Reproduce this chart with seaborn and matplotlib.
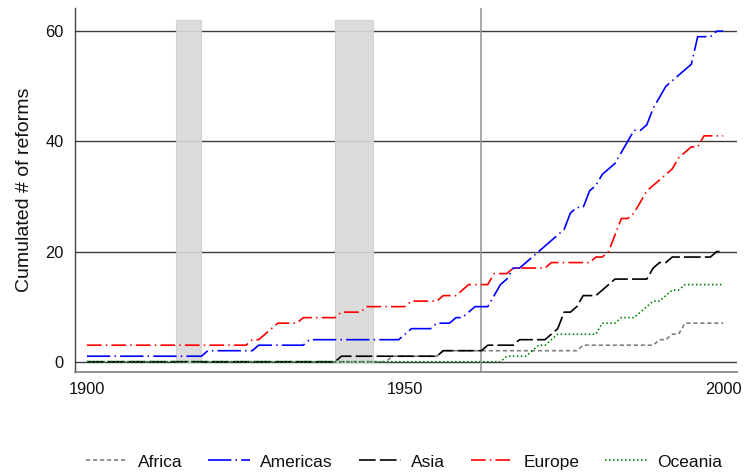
import numpy as np
import pandas as pd
import matplotlib
matplotlib.use("Agg")
import matplotlib.pyplot as plt
import seaborn as sns

# ---------------- data ----------------
years = list(range(1900, 2001))
regions = ["Africa", "Americas", "Asia", "Europe", "Oceania"]

# reforms already in place before 1900
base_africa = 0
base_americas = 1
base_asia = 0
base_europe = 3
base_oceania = 0

# years of individual reforms (a year is repeated when several reforms happened)
reforms_africa = [1948, 1956, 1978, 1990, 1992, 1994, 1994]
reforms_americas = [1919, 1927, 1935, 1950, 1951, 1955, 1958, 1960, 1961,
                    1964, 1964, 1965, 1965, 1966, 1967, 1967, 1969, 1970,
                    1971, 1972, 1973, 1974, 1975, 1976, 1976, 1976, 1977,
                    1979, 1979, 1979, 1980, 1981, 1981, 1982, 1983, 1984,
                    1984, 1985, 1985, 1986, 1986, 1988, 1989, 1989, 1989,
                    1990, 1990, 1991, 1991, 1992, 1993, 1994, 1995,
                    1996, 1996, 1996, 1996, 1996, 1999]
reforms_asia = [1940, 1956, 1963, 1968, 1973, 1974, 1975, 1975, 1975, 1977,
                1978, 1978, 1981, 1982, 1983, 1989, 1989, 1990, 1992, 1999]
reforms_europe = [1926, 1928, 1929, 1930, 1934, 1940, 1944, 1951, 1956, 1959,
                  1960, 1964, 1964, 1967, 1973, 1980, 1982, 1983, 1983, 1983,
                  1984, 1984, 1984, 1986, 1987, 1987, 1988, 1988, 1989, 1990,
                  1991, 1992, 1993, 1993, 1994, 1995, 1997, 1997]
reforms_oceania = [1966, 1970, 1971, 1973, 1974, 1981, 1981, 1984, 1987,
                   1988, 1989, 1991, 1992, 1994]

# world wars (shaded periods) and marker line
war_start = [1914, 1939]
war_end = [1918, 1945]
war_top = 62
marker_year = 1962

x_ticks = [1900, 1950, 2000]
y_ticks = [0, 20, 40, 60]
y_label = "Cumulated # of reforms"

# ---------------- build table ----------------
bases = {"Africa": base_africa, "Americas": base_americas, "Asia": base_asia,
         "Europe": base_europe, "Oceania": base_oceania}
events = {"Africa": reforms_africa, "Americas": reforms_americas,
          "Asia": reforms_asia, "Europe": reforms_europe,
          "Oceania": reforms_oceania}
rows = []
yrs = np.array(years)
for r in regions:
    ev = np.sort(np.array(events[r]))
    cum = bases[r] + np.searchsorted(ev, yrs, side="right")
    for y, c in zip(yrs, cum):
        rows.append({"year": int(y), "count": int(c), "region": r})
df = pd.DataFrame(rows)

# ---------------- style ----------------
sns.set_theme(style="white")
plt.rcParams["font.family"] = ["Liberation Sans", "DejaVu Sans"]

palette = {"Africa": "#808080", "Americas": "#0000ff", "Asia": "#000000",
           "Europe": "#ff0000", "Oceania": "#008000"}
dashes = {"Africa": (2.5, 1.7), "Americas": (14, 2.5, 0.9, 2.5),
          "Asia": (10, 2.5), "Europe": (8.8, 2.5, 0.9, 2.5),
          "Oceania": (0.9, 1.5)}

fig = plt.figure(figsize=(7.45, 4.75), dpi=100)
ax = fig.add_axes([0.1013, 0.2168, 0.8873, 0.7663])

# shaded war periods
ax.bar(war_start, [war_top] * len(war_start),
       width=np.array(war_end) - np.array(war_start), align="edge",
       color="#d9d9d9", edgecolor="#cfcfcf", linewidth=0.8, alpha=0.9,
       zorder=1)

ax.axvline(marker_year, color="#999999", lw=1.2, zorder=2)

sns.lineplot(data=df, x="year", y="count", hue="region", style="region",
             hue_order=regions, style_order=regions, palette=palette,
             dashes=dashes, linewidth=1.2, ax=ax, zorder=3)

ax.set_xlim(1898.2, 2002.1)
ax.set_ylim(-1.87, 64.2)
ax.set_xticks(x_ticks)
ax.set_yticks(y_ticks)
ax.set_xlabel("")
ax.set_ylabel(y_label, fontsize=14, labelpad=9, color="#111111")

ax.set_axisbelow(True)
ax.yaxis.grid(True, color="#3c3c3c", linewidth=1.0)
ax.xaxis.grid(False)

for s in ["top", "right"]:
    ax.spines[s].set_visible(False)
ax.spines["left"].set_color("#444444")
ax.spines["left"].set_linewidth(1.0)
ax.spines["bottom"].set_color("#888888")
ax.spines["bottom"].set_linewidth(1.3)

ax.tick_params(axis="both", which="both", direction="out", length=5,
               width=1.0, labelsize=11.8, labelcolor="#111111")
ax.tick_params(axis="x", pad=2, color="#888888")
ax.tick_params(axis="y", pad=3.5, color="#444444")

sns.move_legend(ax, "center", bbox_to_anchor=(0.497, -0.247), ncol=5,
                frameon=False, title=None, fontsize=12.5,
                handlelength=2.4, handletextpad=0.6, columnspacing=1.5)
for t in ax.get_legend().get_texts():
    t.set_color("#111111")

fig.savefig("out.png", dpi=100)
